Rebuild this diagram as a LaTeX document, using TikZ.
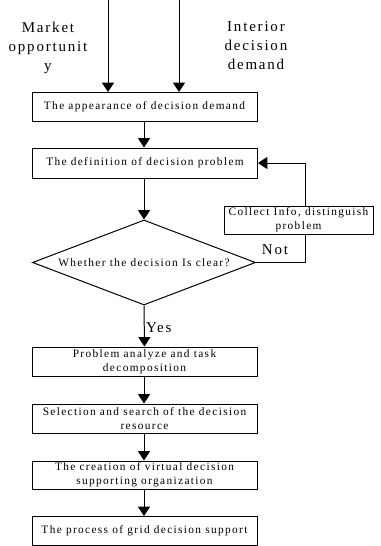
\documentclass[tikz,border=0pt]{standalone}
\usepackage{fontspec}
\setmainfont{Liberation Serif}[LetterSpace=12]
\usetikzlibrary{arrows.meta,shapes.geometric}

\tikzset{every picture/.style={line width=0.75pt}}
\tikzset{
  stepbox/.style={draw, rectangle, minimum width=168.75pt, minimum height=21.75pt,
    inner sep=0.75pt, align=center, font=\fontsize{8.5}{10.5}\selectfont},
  flow/.style={-{Triangle[width=9pt,length=7pt]}},
  biglabel/.style={align=center, inner sep=0.75pt, font=\fontsize{11.25}{14.25}\selectfont}
}

\begin{document}
\begin{tikzpicture}[x=0.75pt,y=0.75pt,yscale=-1,xscale=1]
\useasboundingbox (0,0) rectangle (381,546);

% Inputs
\node [biglabel] (mktlbl) at (48,48) {Market\\opportunit\\y};
\node [biglabel] (intlbl) at (256,46) {Interior\\decision\\demand};
\coordinate (mkt) at (108,0);
\coordinate (int) at (179,0);

% Main chain
\node [stepbox] (app) at (144.5,107) {The appearance of decision demand};
\node [stepbox, minimum height=22.5pt] (def) at (145,163) {The definition of decision problem};
\node [draw, diamond, shape aspect=2.62, minimum width=167.25pt, minimum height=63.75pt, inner sep=0pt,
  font=\fontsize{8.5}{10.5}\selectfont] (dec) at (144,262.5) {Whether the decision Is clear?};
\node [stepbox] (ana) at (144.5,361.5) {Problem analyze and task\\decomposition};
\node [stepbox] (sel) at (144.5,418.5) {Selection and search of the decision\\resource};
\node [stepbox, minimum height=21pt] (org) at (144.5,475) {The creation of virtual decision\\supporting organization};
\node [stepbox] (grid) at (144.5,531) {The process of grid decision support};

\draw [flow] (mkt) -- (mkt |- app.north);
\draw [flow] (int) -- (int |- app.north);
\draw [flow] (app.south -| dec.north) -- (def.north -| dec.north);
\draw [flow] (def.south -| dec.north) -- (dec.north);
\draw [flow] (dec.south) -- node [pos=0.55, right, inner sep=1pt, font=\fontsize{11.25}{13}\selectfont] (yes) {Yes} (ana.north);
\draw [flow] (ana.south -| dec.north) -- (sel.north -| dec.north);
\draw [flow] (sel.south -| dec.north) -- (org.north -| dec.north);
\draw [flow] (org.south -| dec.north) -- (grid.north -| dec.north);

% Loop back when unclear
\coordinate (bend) at (305,262.5);
\draw [flow] (dec.east) -- (bend) |- (def.east);
\node [stepbox, minimum width=111.75pt, minimum height=21pt, fill=white] (col) at (298.5,220) {Collect Info, distinguish\\problem};
\node [inner sep=0.75pt, font=\fontsize{11.25}{13}\selectfont] (not) at (275,250) {Not};

\end{tikzpicture}
\end{document}
